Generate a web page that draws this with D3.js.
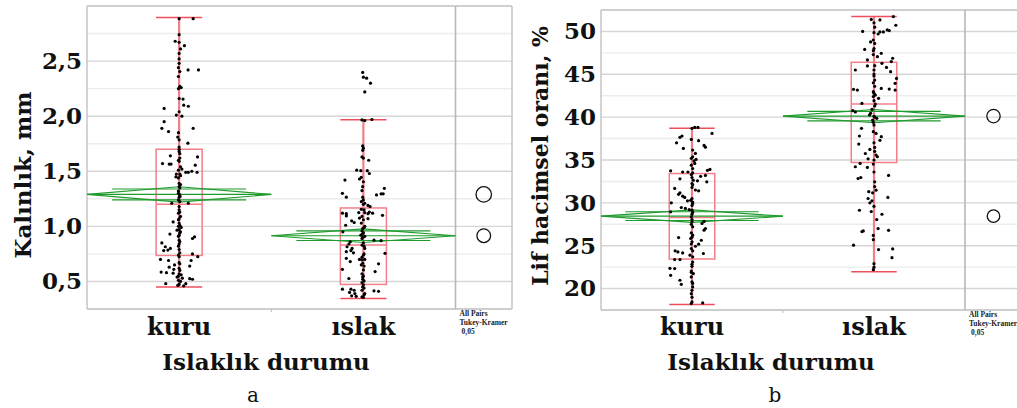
<!DOCTYPE html>
<html>
<head>
<meta charset="utf-8">
<script src="https://cdn.jsdelivr.net/npm/d3@7"></script>
<style>
  body { margin: 0; background: #fff; }
</style>
</head>
<body>
<script>
// groups on the x axis
const groups = ["kuru", "ıslak"];

// points: [value, jitter as share of half box width]
const kuruKalinlik = [[2.885,0.61],[2.885,0],[2.74,0],[2.68,-0.17],[2.67,0],[2.64,0.23],[2.61,0.06],[2.57,0],[2.52,0],[2.48,0],[2.44,-0.03],[2.42,0.39],[2.42,0.84],[2.405,0.03],[2.36,-0.03],[2.27,0.03],[2.26,0.09],[2.25,-0.03],[2.16,0],[2.155,0.17],[2.10,0.2],[2.09,0.4],[2.07,-0.65],[2.04,0],[2.01,-0.12],[2.0,0.12],[1.95,-0.65],[1.89,-0.75],[1.89,0.61],[1.86,-0.46],[1.85,-0.03],[1.81,-0.06],[1.785,0],[1.755,0.38],[1.72,0],[1.70,0],[1.68,0],[1.66,0.03],[1.64,-0.38],[1.63,0.8],[1.62,0.03],[1.60,-0.03],[1.59,0],[1.57,-0.72],[1.565,-0.43],[1.565,-0.35],[1.555,0.7],[1.54,0.06],[1.52,0.12],[1.51,-0.03],[1.5,0.55],[1.49,0.29],[1.49,0.4],[1.49,0.78],[1.475,-0.12],[1.475,0.03],[1.46,0.06],[1.45,-0.14],[1.44,-0.03],[1.39,0],[1.38,0.06],[1.36,0],[1.35,0.03],[1.32,-0.03],[1.30,-0.03],[1.285,0.03],[1.27,0.04],[1.265,0],[1.24,-0.03],[1.225,0.03],[1.21,-0.32],[1.21,0.4],[1.18,0],[1.15,0],[1.13,0.03],[1.12,-0.03],[1.09,0.06],[1.07,0],[1.06,-0.03],[1.04,-0.26],[1.03,0],[1.01,0.03],[1.0,-0.03],[0.99,0.09],[0.97,0],[0.965,-0.09],[0.95,0.06],[0.94,0.03],[0.93,-0.4],[0.92,0],[0.91,-0.03],[0.905,0.67],[0.89,0.58],[0.875,0],[0.86,0.03],[0.85,-0.75],[0.84,0],[0.82,-0.03],[0.815,-0.6],[0.80,-0.38],[0.79,0],[0.785,-0.49],[0.78,-0.67],[0.76,0.03],[0.75,0.58],[0.74,-0.03],[0.725,0.81],[0.725,0],[0.70,-0.81],[0.69,-0.46],[0.69,0.52],[0.67,0],[0.66,0.03],[0.65,-0.2],[0.64,0.46],[0.63,-0.43],[0.62,0],[0.61,-0.23],[0.60,0.03],[0.585,-0.78],[0.58,-0.55],[0.575,-0.26],[0.57,0],[0.56,0.09],[0.55,-0.03],[0.54,-0.09],[0.53,0.14],[0.525,0.46],[0.52,0.58],[0.51,-0.03],[0.50,0.06],[0.48,-0.58],[0.48,0.29],[0.475,0],[0.465,-0.06],[0.46,0.2]];

const islakKalinlik = [[2.397,-0.03],[2.354,0],[2.345,0.14],[2.30,0.31],[2.22,0.06],[1.966,-0.06],[1.96,0.06],[1.97,0.37],[1.73,-0.03],[1.71,0],[1.69,-0.03],[1.63,-0.06],[1.62,0],[1.60,0.23],[1.51,-0.29],[1.505,-0.11],[1.505,0.17],[1.48,0.26],[1.445,-0.09],[1.43,-0.17],[1.42,-0.8],[1.405,0],[1.36,-0.03],[1.345,0.91],[1.325,-0.06],[1.30,-0.91],[1.295,0.77],[1.295,0.86],[1.285,0.57],[1.265,-0.74],[1.265,-0.03],[1.24,0],[1.225,-0.09],[1.21,0.06],[1.20,0],[1.19,0.2],[1.18,0.29],[1.155,-0.09],[1.15,0.03],[1.13,0.26],[1.125,-0.2],[1.125,0.06],[1.12,-0.91],[1.12,0.4],[1.115,-0.74],[1.115,0.2],[1.10,0.83],[1.095,-0.74],[1.09,-0.06],[1.075,-0.17],[1.07,0.2],[1.06,0],[1.05,-0.51],[1.035,-0.4],[1.03,-0.09],[1.01,-0.77],[1.0,0.06],[0.99,0.03],[0.98,-0.03],[0.96,-0.06],[0.95,-0.89],[0.94,0],[0.935,-0.03],[0.92,-0.11],[0.91,0.06],[0.90,-0.03],[0.89,-0.06],[0.875,0.46],[0.87,0.77],[0.86,-0.57],[0.85,0],[0.84,-0.63],[0.83,-0.06],[0.82,0.03],[0.815,-0.71],[0.80,-0.49],[0.80,0.06],[0.78,-0.54],[0.77,-0.74],[0.76,-0.43],[0.755,0.94],[0.75,0.03],[0.74,0],[0.72,-0.06],[0.71,-0.74],[0.70,-0.17],[0.70,0.06],[0.695,-0.06],[0.68,-0.57],[0.665,-0.03],[0.66,0.66],[0.65,-0.09],[0.64,0.03],[0.61,-0.91],[0.605,0],[0.59,0.51],[0.57,-0.06],[0.55,0],[0.54,-0.03],[0.527,-0.63],[0.52,-0.03],[0.505,0.03],[0.49,-0.06],[0.47,0],[0.45,-0.03],[0.44,0.03],[0.43,-0.91],[0.43,-0.54],[0.42,-0.4],[0.42,-0.06],[0.415,0.46],[0.41,0.66],[0.40,-0.6],[0.39,-0.37],[0.39,0.06],[0.38,0.03],[0.37,-0.51],[0.365,-0.31],[0.36,-0.06],[0.355,0]];

const kuruLif = [[38.8,0.12],[38.8,0.26],[38.69,0],[38.1,0.88],[37.8,-0.44],[37.64,-0.53],[37.4,-0.03],[37.25,0.29],[37.0,-0.68],[36.7,0.53],[36.5,0.59],[36.35,-0.38],[36.16,0.03],[35.77,0.15],[35.38,0.03],[35.2,-0.03],[35.07,0.18],[34.9,0.09],[34.6,0.12],[34.4,-0.03],[34.0,0.03],[33.9,0.79],[33.8,0.68],[33.74,-0.94],[33.6,-0.41],[33.6,-0.18],[33.5,0.03],[33.3,-0.03],[33.2,0.59],[33.1,0.38],[32.96,0],[32.8,-0.53],[32.64,0.06],[32.57,0.24],[32.45,0.65],[32.26,0],[32.1,0.03],[31.8,0],[31.68,-0.76],[31.5,0.15],[31.4,0.29],[31.17,-0.53],[31.0,-0.59],[30.78,-0.41],[30.63,-0.32],[30.5,0],[30.3,-0.06],[30.24,-0.2],[30.1,0.03],[30.0,-0.91],[29.93,0.03],[29.7,0],[29.46,-0.47],[29.35,-0.29],[29.2,-0.12],[29.15,0],[28.95,-0.94],[28.9,0.03],[28.68,0],[28.37,-0.03],[28.06,0],[27.83,0.53],[27.8,0],[27.59,0.44],[27.5,-0.03],[27.2,0.03],[27.0,0.59],[26.81,0.53],[26.5,-0.03],[26.23,0.03],[26.0,0],[25.95,-0.59],[25.84,-0.06],[25.64,0.41],[25.45,0],[25.2,-0.03],[25.18,0.29],[24.94,0.15],[24.67,-0.03],[24.4,-0.74],[24.4,0.03],[24.28,-0.62],[24.16,-0.41],[24.09,0.5],[23.9,-0.09],[23.7,0.03],[23.38,-0.76],[23.38,-0.53],[23.1,0.03],[22.83,0],[22.6,0],[22.36,-0.97],[22.33,-0.76],[22.05,-0.03],[21.9,-0.03],[21.75,0.06],[21.55,-0.94],[21.36,-0.03],[20.97,-0.53],[20.78,0],[20.6,0.03],[20.5,-0.47],[20.19,0.03],[19.8,0],[19.4,-0.03],[19.0,0],[18.44,0],[18.32,0.47],[18.25,-0.03]];

const islakLif = [[51.73,0.85],[51.4,-0.12],[51.34,0.26],[51.0,0],[50.72,0.96],[50.5,0.03],[50.17,0.58],[50.1,0.67],[50.0,-0.5],[49.94,0.26],[49.94,0.41],[49.86,0],[49.7,0.18],[49.0,-0.03],[48.77,-0.15],[48.6,0.03],[48.0,0],[47.9,-0.41],[47.76,-0.03],[47.45,0.32],[47.3,-0.03],[47.06,0.15],[46.87,0.82],[46.67,-0.29],[46.48,0.76],[46.28,0.35],[46.0,0.03],[45.97,-0.29],[45.8,0.55],[45.5,-0.82],[45.5,0],[45.3,0.73],[45.03,0],[44.8,0],[44.52,0.99],[44.33,0.03],[44.0,-0.03],[43.94,0.93],[43.6,0.03],[43.35,0.32],[43.28,0.67],[43.24,-0.9],[43.16,-0.73],[43.16,0.93],[42.97,-0.03],[42.8,0],[42.58,0.06],[42.4,-0.03],[42.2,0.2],[41.92,0],[41.6,-0.53],[41.53,0.06],[41.3,0.03],[40.9,-0.09],[40.75,-0.93],[40.6,-0.82],[40.44,-0.15],[40.25,-0.2],[40.1,0],[40.0,0.03],[39.86,0.12],[39.66,-0.06],[39.4,-0.03],[39.08,0],[38.7,-0.55],[38.3,-0.03],[38.1,0.09],[37.8,-0.64],[37.72,0.32],[37.3,0.26],[37.0,0],[36.86,-0.67],[36.47,0.03],[36.23,-0.18],[36.0,0.03],[35.76,-0.38],[35.57,0.09],[35.38,0.15],[35.14,-0.26],[35.0,0],[34.6,-0.61],[34.52,-0.03],[34.21,-0.82],[34.13,-0.29],[33.6,0],[33.2,0.64],[32.96,-0.58],[32.84,-0.7],[32.45,0.03],[31.9,0.03],[31.48,0.09],[31.3,-0.23],[31.17,-0.06],[30.63,0.61],[30.51,-0.26],[30.24,-0.09],[30.0,-0.18],[29.6,0],[29.14,-0.64],[28.98,-0.12],[28.67,0.35],[28.05,0.12],[27.0,0.18],[26.8,0.64],[26.73,-0.47],[26.65,-0.53],[26.2,-0.03],[25.7,-0.03],[25.06,-0.9],[24.63,0.82],[24.55,0.2],[23.6,0.79],[22.9,0],[22.5,0],[22.2,-0.03]];

// box summary per group: [min, q1, median, q3, max]
const boxKalinlik = [[0.45, 0.736, 1.2, 1.70, 2.895], [0.345, 0.473, 0.83, 1.167, 1.967]];
const boxLif = [[18.13, 23.45, 28.3, 33.42, 38.69], [21.95, 34.71, 41.53, 46.4, 51.73]];

// means and 95% half widths (means diamonds)
const meanKalinlik = [1.29, 0.915];
const ciKalinlik = [0.07, 0.062];
const meanLif = [28.45, 40.12];
const ciLif = [0.73, 0.78];

// tick labels
const ticksKalinlik = [0.5, 1.0, 1.5, 2.0, 2.5];
const ticksLif = [20, 25, 30, 35, 40, 45, 50];

const W = 1017, H = 408;
const serif = "'DejaVu Serif', serif";
const trLocale = d3.formatLocale({decimal: ",", thousands: ".", grouping: [3], currency: ["", ""]});

const svg = d3.select("body").append("svg")
  .attr("width", W)
  .attr("height", H)
  .style("display", "block");

function drawPanel(cfg) {
  const g = svg.append("g");

  const y = d3.scaleLinear().domain(cfg.domain).range([cfg.bottom, cfg.top]);
  const x = d3.scaleBand().domain(groups).range([cfg.left, cfg.plotRight]);
  const boxHalf = x.bandwidth() * 0.125;

  // gridlines, light for the minor steps
  const steps = d3.range(cfg.domain[0], cfg.domain[1] + 1e-9, cfg.minor);
  g.selectAll(".grid")
    .data(steps)
    .enter()
    .append("line")
    .attr("x1", cfg.left)
    .attr("x2", cfg.right)
    .attr("y1", d => y(d))
    .attr("y2", d => y(d))
    .attr("stroke", d => cfg.ticks.some(t => Math.abs(t - d) < 1e-6) ? "#d6d6d6" : "#ececec")
    .attr("stroke-width", 1.4);

  // frame
  const frame = "#c2c2c2";
  g.append("line").attr("x1", cfg.left).attr("x2", cfg.right).attr("y1", cfg.top).attr("y2", cfg.top)
    .attr("stroke", "#d0d0d0").attr("stroke-width", 2);
  g.append("line").attr("x1", cfg.left).attr("x2", cfg.right).attr("y1", cfg.bottom).attr("y2", cfg.bottom)
    .attr("stroke", frame).attr("stroke-width", 1.4);
  g.append("line").attr("x1", cfg.left).attr("x2", cfg.left).attr("y1", cfg.top).attr("y2", cfg.bottom)
    .attr("stroke", frame).attr("stroke-width", 1.4);
  g.append("line").attr("x1", cfg.plotRight).attr("x2", cfg.plotRight).attr("y1", cfg.top).attr("y2", cfg.bottom)
    .attr("stroke", "#b8b8b8").attr("stroke-width", 1.6);
  if (cfg.right < W) {
    g.append("line").attr("x1", cfg.right).attr("x2", cfg.right).attr("y1", cfg.top).attr("y2", cfg.bottom)
      .attr("stroke", frame).attr("stroke-width", 1.4);
  }
  // small tick between the groups
  g.append("line")
    .attr("x1", x("ıslak")).attr("x2", x("ıslak"))
    .attr("y1", cfg.bottom).attr("y2", cfg.bottom + 3)
    .attr("stroke", "#bbb");

  // y axis labels
  const yAxis = d3.axisLeft(y)
    .tickValues(cfg.ticks)
    .tickSize(0)
    .tickPadding(5)
    .tickFormat(cfg.fmt);
  g.append("g")
    .attr("transform", `translate(${cfg.left},0)`)
    .call(yAxis)
    .call(a => a.select(".domain").remove())
    .selectAll("text")
    .attr("font-family", serif)
    .attr("font-weight", "bold")
    .attr("font-size", 23)
    .attr("fill", "#111");

  // boxes
  const boxes = g.selectAll(".box")
    .data(groups.map((k, i) => ({k, b: cfg.box[i]})))
    .enter()
    .append("g");
  boxes.append("line")
    .attr("x1", d => x(d.k) + x.bandwidth() / 2)
    .attr("x2", d => x(d.k) + x.bandwidth() / 2)
    .attr("y1", d => y(d.b[0]))
    .attr("y2", d => y(d.b[4]))
    .attr("stroke", "#f07f89")
    .attr("stroke-width", 2.2);
  boxes.append("rect")
    .attr("x", d => x(d.k) + x.bandwidth() / 2 - boxHalf)
    .attr("width", boxHalf * 2)
    .attr("y", d => y(d.b[3]))
    .attr("height", d => y(d.b[1]) - y(d.b[3]))
    .attr("fill", "none")
    .attr("stroke", "#f27f8a")
    .attr("stroke-width", 1.5);
  [0, 2, 4].forEach(j => {
    boxes.append("line")
      .attr("x1", d => x(d.k) + x.bandwidth() / 2 - boxHalf)
      .attr("x2", d => x(d.k) + x.bandwidth() / 2 + boxHalf)
      .attr("y1", d => y(d.b[j]))
      .attr("y2", d => y(d.b[j]))
      .attr("stroke", j === 2 ? "#f27f8a" : "#ee4f5e")
      .attr("stroke-width", 1.5);
  });

  // means diamonds with overlap marks
  groups.forEach((k, i) => {
    const x0 = x(k), x1 = x(k) + x.bandwidth(), xc = (x0 + x1) / 2;
    const m = cfg.mean[i], c = cfg.ci[i];
    const d = g.append("g").attr("stroke", "#1f9a2c").attr("fill", "none").attr("stroke-width", 1.1);
    d.append("path")
      .attr("d", d3.line()([[x0, y(m)], [xc, y(m + c)], [x1, y(m)], [xc, y(m - c)], [x0, y(m)]]));
    d.append("line").attr("x1", x0).attr("x2", x1).attr("y1", y(m)).attr("y2", y(m));
    const o = c * Math.SQRT1_2;
    const ow = (x1 - x0) / 2 * (1 - Math.SQRT1_2);
    [m + o, m - o].forEach(v => {
      d.append("line")
        .attr("x1", xc - ow - 40).attr("x2", xc + ow + 40)
        .attr("y1", y(v)).attr("y2", y(v));
    });
  });

  // jittered points
  cfg.points.forEach((pts, i) => {
    const xc = x(groups[i]) + x.bandwidth() / 2;
    g.selectAll(null)
      .data(pts)
      .enter()
      .append("circle")
      .attr("cx", d => xc + d[1] * boxHalf)
      .attr("cy", d => y(d[0]))
      .attr("r", 1.6)
      .attr("fill", "#000");
  });

  // comparison circles
  const cx = (cfg.plotRight + cfg.circleRight) / 2;
  g.selectAll(".cmp")
    .data(cfg.mean)
    .enter()
    .append("circle")
    .attr("cx", cx)
    .attr("cy", d => y(d))
    .attr("r", (d, i) => y(d) - y(d + cfg.ci[i]))
    .attr("fill", "none")
    .attr("stroke", "#111")
    .attr("stroke-width", 1.3);

  // test note
  const note = g.append("text")
    .attr("x", cfg.plotRight + 4)
    .attr("y", cfg.bottom + 7)
    .attr("font-family", "'Liberation Serif', serif")
    .attr("font-weight", "bold")
    .attr("font-size", 7.5)
    .attr("fill", "#222");
  note.append("tspan").attr("x", cfg.plotRight + 4).attr("dy", 0).text("All Pairs");
  note.append("tspan").attr("x", cfg.plotRight + 4).attr("dy", 9).text("Tukey-Kramer");
  note.append("tspan").attr("x", cfg.plotRight + 6).attr("dy", 9).text("0,05");

  // group names
  g.selectAll(".grp")
    .data(groups)
    .enter()
    .append("text")
    .attr("x", d => x(d) + x.bandwidth() / 2)
    .attr("y", 335)
    .attr("text-anchor", "middle")
    .attr("font-family", serif)
    .attr("font-weight", "bold")
    .attr("font-size", 24)
    .attr("fill", "#111")
    .text(d => d);

  // axis titles
  g.append("text")
    .attr("x", cfg.xTitleX)
    .attr("y", 370)
    .attr("text-anchor", "middle")
    .attr("font-family", serif)
    .attr("font-weight", "bold")
    .attr("font-size", 23)
    .attr("fill", "#111")
    .text("Islaklık durumu");

  g.append("text")
    .attr("transform", `translate(${cfg.yTitleX},${cfg.yTitleY}) rotate(-90)`)
    .attr("text-anchor", "middle")
    .attr("font-family", serif)
    .attr("font-weight", "bold")
    .attr("font-size", cfg.yTitleSize)
    .attr("fill", "#111")
    .text(cfg.yTitle);

  g.append("text")
    .attr("x", cfg.captionX)
    .attr("y", 402)
    .attr("text-anchor", "middle")
    .attr("font-family", serif)
    .attr("font-size", 20)
    .attr("fill", "#111")
    .text(cfg.caption);
}

drawPanel({
  left: 87, top: 6, plotRight: 455.5, right: 512, circleRight: 512, bottom: 309,
  domain: [0.25, 3.0], minor: 0.25, ticks: ticksKalinlik, fmt: trLocale.format(".1f"),
  box: boxKalinlik, mean: meanKalinlik, ci: ciKalinlik,
  points: [kuruKalinlik, islakKalinlik],
  xTitleX: 266, yTitleX: 31, yTitleY: 175, yTitleSize: 23, yTitle: "Kalınlık, mm",
  captionX: 253, caption: "a"
});

drawPanel({
  left: 601, top: 10, plotRight: 965, right: 1030, circleRight: 1022, bottom: 310,
  domain: [17.5, 52.5], minor: 2.5, ticks: ticksLif, fmt: d3.format("d"),
  box: boxLif, mean: meanLif, ci: ciLif,
  points: [kuruLif, islakLif],
  xTitleX: 771, yTitleX: 548, yTitleY: 156, yTitleSize: 22, yTitle: "Lif hacimsel oranı, %",
  captionX: 775, caption: "b"
});
</script>
</body>
</html>
